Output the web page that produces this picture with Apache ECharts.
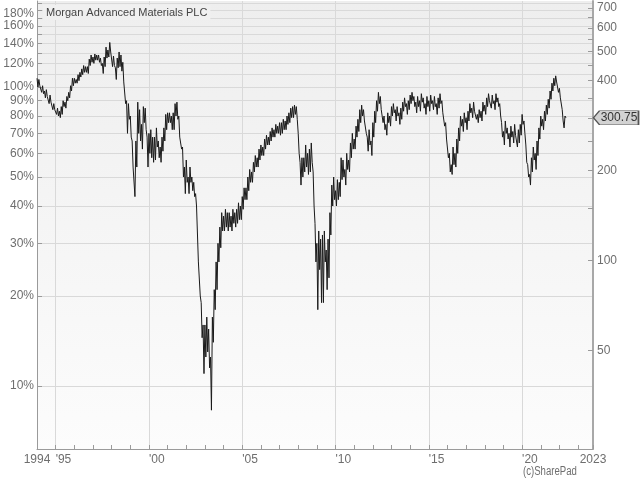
<!DOCTYPE html>
<html><head><meta charset="utf-8">
<script src="https://cdn.jsdelivr.net/npm/echarts@6/dist/echarts.min.js"></script>
<style>html,body{margin:0;padding:0;background:#fff}#c{width:640px;height:480px}</style>
</head><body><div id="c"></div>
<script>
const titleText = 'Morgan Advanced Materials PLC';
const creditText = '(c)SharePad';
// Read every 0.1 year from 1994.0: high and low of the trace (in % of start price, left axis)
const startYear = 1994.0;
const stepYears = 0.1;
const pctHigh = [
 107,106,101,101,97,98,93,94,88,88,
 85,85,83,86,90,89,93,96,101,107,
 107,106,110,112,115,118,117,117,124,128,
 126,129,128,128,125,120,126,136,133,141,
 130,127,116,125,131,128,121,103,90,88,
 80,66,54,66,89,84,75,86,85,68,
 70,72,68,68,73,66,63,68,73,81,
 82,82,80,82,88,89,80,68,63,54,
 57,50,54,50,48,44,40,26,19,16,
 16,17,15.5,12.5,17,21,26,30,34,38,
 37,39,38,38,37,39,38,39,41,40,
 43,46,46,50,53,52,56,59,58,62,
 64,63,67,69,68,71,73,72,75,74,
 76,76,78,77,80,82,85,86,87,86,
 70,56,58,58,64,60,62,65,52,35,
 30,33,31,32,33,28.5,31,38,47,50,
 45,49,48,58,57,53,60,57,65,70,
 67,74,78,84,87,84,78,68,72,66,
 76,83,90,96,93,83,80,75,82,80,
 86,88,84,86,82,85,89,92,88,90,
 94,96,93,89,93,90,95,92,88,93,
 90,94,90,93,88,92,95,90,82,76,
 66,60,55,63,60,67,73,80,78,82,
 79,83,88,85,89,84,81,84,83,89,
 87,92,95,91,94,90,95,92,88,76,
 71,77,73,70,74,71,75,70,72,75,
 81,77,64,55,51,58,63,60,66,73,
 80,78,83,87,91,97,103,107,109,103,
 99,92,77,80
];
const pctLow = [
 100,101,96,95,92,93,88,89,84,84,
 81,80,79,81,86,85,90,92,97,101,
 103,103,105,108,110,112,112,111,118,121,
 120,123,123,121,118,111,117,125,126,131,
 117,118,106,116,117,113,104,88,70,78,
 68,54,43,54,70,66,62,76,72,54,
 60,58,56,57,63,58,56,61,66,72,
 76,76,72,72,80,78,68,62,50,44,
 48,44,48,45,43,40,26,20,14.5,11,
 12.5,13,11.5,8.3,14,18,21,26,29,33,
 33,34,33,34,33,35,34,35,36,36,
 39,42,42,45,48,48,52,54,54,57,
 59,59,62,64,64,66,68,68,70,70,
 69,70,72,72,75,76,79,79,81,78,
 60,47,50,52,54,51,52,56,40,26,
 18,24.5,19,19,26,21,23,32,40,42,
 40,42,43,49,50,47,53,52,58,62,
 62,68,71,76,80,77,70,61,64,59,
 68,76,83,88,84,76,72,69,76,74,
 80,82,77,80,75,78,83,86,81,84,
 88,90,86,82,86,83,89,85,81,86,
 83,88,84,86,81,85,88,82,74,67,
 58,52,51,55,54,60,66,74,71,76,
 72,77,82,79,83,78,76,79,77,83,
 81,86,90,85,88,84,89,86,80,68,
 64,70,67,63,68,65,69,63,65,69,
 75,70,56,50,47,52,57,53,59,67,
 74,72,77,81,85,91,97,101,104,96,
 92,84,73,78.9
];
const basePrice = 381;      // price equal to 100%
const lastPrice = 300.75;
const xMin = 1994, xMax = 2023.8;
const xLabelYears = [1995, 2000, 2005, 2010, 2015, 2020];
const xEndLabels = {1994: '1994', 2023.8: '2023'};
const pctMin = 6.155, pctMax = 194;
const leftTickPct = [10,20,30,40,50,60,70,80,90,100,110,120,130,140,150,160,170,180,190];
const leftLabelPct = [10,20,30,40,50,60,70,80,90,100,120,140,160,180];
const rightTickPrice = [50,100,150,200,250,300,350,400,450,500,550,600,650,700];
const rightLabelPrice = [50,100,200,300,400,500,600,700];

const seriesData = [];
pctHigh.forEach((hi, i) => {
  const t = startYear + i * stepYears;
  seriesData.push([+t.toFixed(3), hi]);
  seriesData.push([+(t + stepYears / 2).toFixed(3), pctLow[i]]);
});
const lastYear = seriesData[seriesData.length - 1][0];

const FONT = 'Liberation Sans, Arial, sans-serif';
const labelColor = '#6e6e6e';
const axisColor = '#9a9a9a';
const gridColor = '#d9d9d9';

const chart = echarts.init(document.getElementById('c'), null, {renderer: 'canvas'});
chart.setOption({
  animation: false,
  backgroundColor: '#ffffff',
  title: {
    text: titleText, left: 43, top: 5, padding: [2, 3],
    backgroundColor: '#f0f0f0',
    textStyle: {fontFamily: FONT, fontSize: 11, fontWeight: 'normal', color: '#444'}
  },
  graphic: [{
    type: 'text', x: 523, y: 466, scaleX: 0.8,
    style: {text: creditText, font: '12px ' + FONT, fill: labelColor}
  }],
  grid: {
    left: 37, right: 47, top: 1, bottom: 31, show: true, borderWidth: 0,
    backgroundColor: {type: 'linear', x: 0, y: 0, x2: 0, y2: 1,
      colorStops: [{offset: 0, color: '#eeeeee'}, {offset: 1, color: '#fcfcfc'}]}
  },
  xAxis: [{
    type: 'value', min: xMin, max: xMax, interval: 1, position: 'bottom',
    axisLine: {show: true, lineStyle: {color: axisColor, width: 1}},
    axisTick: {show: true, inside: true, length: 4, lineStyle: {color: axisColor}},
    splitLine: {show: false},
    axisLabel: {
      customValues: xLabelYears, align: 'left', margin: 5,
      fontFamily: FONT, fontSize: 12, color: labelColor,
      formatter: v => "'" + String(Math.round(v)).slice(2)
    }
  }, {
    type: 'value', min: xMin, max: xMax, position: 'bottom',
    axisLine: {show: false},
    axisTick: {show: false, customValues: xLabelYears},
    splitLine: {show: true, lineStyle: {color: gridColor, width: 1}},
    axisLabel: {
      customValues: [xMin, xMax], align: 'center', margin: 5,
      fontFamily: FONT, fontSize: 12, color: labelColor,
      formatter: v => xEndLabels[v] || ''
    }
  }],
  yAxis: [{
    type: 'log', logBase: 10, min: pctMin, max: pctMax, position: 'left',
    axisLine: {show: true, lineStyle: {color: axisColor, width: 1}},
    axisTick: {show: true, inside: true, length: 5, customValues: leftTickPct, lineStyle: {color: axisColor}},
    splitLine: {show: true, lineStyle: {color: gridColor, width: 1}},
    axisLabel: {
      customValues: leftLabelPct, margin: 3,
      fontFamily: FONT, fontSize: 12, color: labelColor,
      formatter: v => Math.round(v) === 180 ? '{top|180%}' : Math.round(v) + '%',
      rich: {top: {padding: [5, 0, 0, 0], fontFamily: FONT, fontSize: 12, color: labelColor}}
    }
  }, {
    type: 'log', logBase: 10, min: pctMin * basePrice / 100, max: pctMax * basePrice / 100, position: 'right',
    axisLine: {show: true, lineStyle: {color: '#a8a8a8', width: 2}},
    axisTick: {show: true, inside: true, length: 5, customValues: rightTickPrice, lineStyle: {color: axisColor}},
    splitLine: {show: false},
    axisLabel: {
      customValues: rightLabelPrice, margin: 4,
      fontFamily: FONT, fontSize: 12, color: labelColor,
      formatter: v => String(Math.round(v))
    }
  }],
  series: [{
    type: 'line', xAxisIndex: 0, yAxisIndex: 0, data: seriesData,
    showSymbol: false, symbol: 'none', z: 5,
    lineStyle: {color: '#1a1a1a', width: 1},
    silent: true
  }, {
    type: 'line', xAxisIndex: 0, yAxisIndex: 1, data: [[lastYear, lastPrice]],
    showSymbol: false, symbol: 'none', clip: false, silent: true,
    lineStyle: {opacity: 0},
    markPoint: {
      silent: true,
      symbol: 'path://M0,7L6,0L45,0L45,14L6,14Z',
      symbolSize: [45, 14],
      symbolOffset: [23, 0],
      itemStyle: {color: '#d2d2d2', borderColor: '#555', borderWidth: 1},
      label: {show: true, position: 'inside', offset: [3, 0], formatter: String(lastPrice),
        fontFamily: FONT, fontSize: 12, color: '#333'},
      data: [{coord: [xMax, lastPrice]}]
    }
  }]
});
</script>
</body></html>
